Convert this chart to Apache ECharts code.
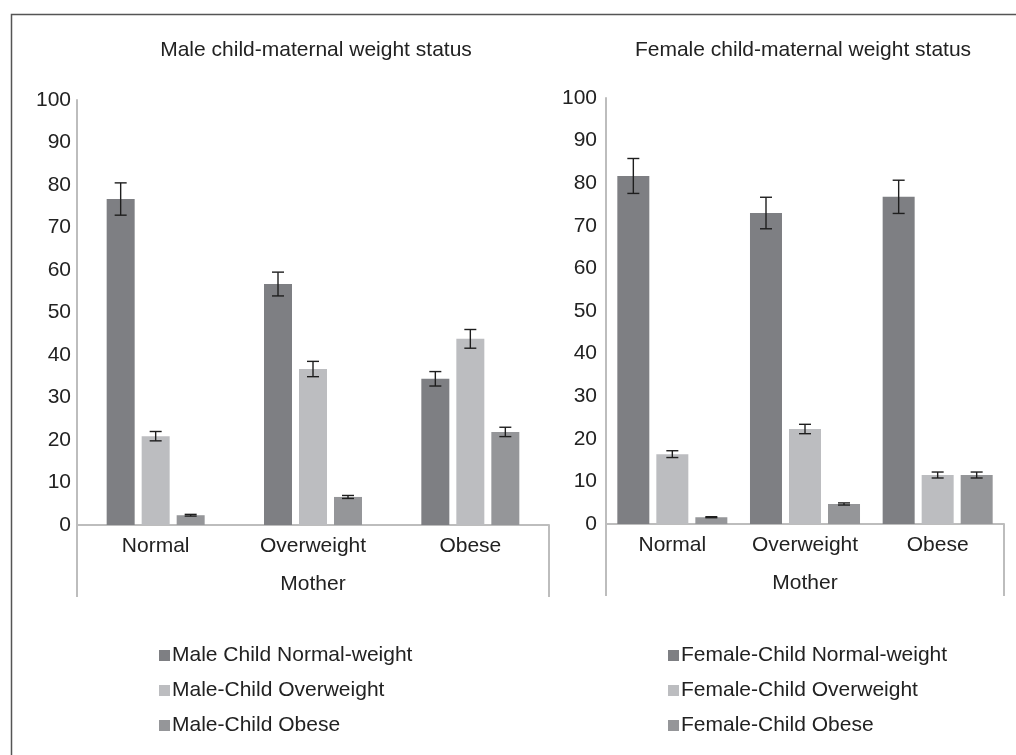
<!DOCTYPE html>
<html>
<head>
<meta charset="utf-8">
<script src="https://cdn.jsdelivr.net/npm/echarts@6/dist/echarts.min.js"></script>
<style>
  html, body { margin: 0; padding: 0; background: #fff; }
  #chart { width: 1016px; height: 755px; }
</style>
</head>
<body>
<div id="chart"></div>
<script>
// Mother's weight status (x categories)
const categories = ['Normal', 'Overweight', 'Obese'];
const yTicks = [0, 10, 20, 30, 40, 50, 60, 70, 80, 90, 100];

// Male children: percentage by weight status, with error (±) per bar
const maleNames = ['Male Child Normal-weight', 'Male-Child Overweight', 'Male-Child Obese'];
const maleNormal = [76.7, 56.7, 34.4];
const maleNormalErr = [3.8, 2.8, 1.7];
const maleOver = [20.9, 36.7, 43.8];
const maleOverErr = [1.1, 1.8, 2.2];
const maleObese = [2.3, 6.6, 21.9];
const maleObeseErr = [0.2, 0.35, 1.1];

// Female children
const femaleNames = ['Female-Child Normal-weight', 'Female-Child Overweight', 'Female-Child Obese'];
const femaleNormal = [81.7, 73.0, 76.8];
const femaleNormalErr = [4.1, 3.7, 3.9];
const femaleOver = [16.4, 22.3, 11.5];
const femaleOverErr = [0.8, 1.1, 0.7];
const femaleObese = [1.6, 4.7, 11.5];
const femaleObeseErr = [0.12, 0.25, 0.7];

const colors = ['#7e7f83', '#bcbdc0', '#959699'];
const FONT = "'Liberation Sans', Arial, sans-serif";
const TXT = '#222222';
const AXIS = '#bdbdbd';

const panels = [
  { title: 'Male child-maternal weight status', names: maleNames,
    values: [maleNormal, maleOver, maleObese], errs: [maleNormalErr, maleOverErr, maleObeseErr],
    grid: { left: 77, top: 100, width: 472, height: 425 }, barWidth: 28, gapPx: 7, labelMargin: 6,
    titleX: 311, legendX: 154 },
  { title: 'Female child-maternal weight status', names: femaleNames,
    values: [femaleNormal, femaleOver, femaleObese], errs: [femaleNormalErr, femaleOverErr, femaleObeseErr],
    grid: { left: 606, top: 98, width: 398, height: 426 }, barWidth: 32, gapPx: 7, labelMargin: 9,
    titleX: 798, legendX: 663 }
];

// Error bar drawn around the bar at the given slot within the category group
function errorBarRenderer(slot, barWidth, gapPx) {
  return function (params, api) {
    const c = api.value(0);
    const lo = api.coord([c, api.value(1)]);
    const hi = api.coord([c, api.value(2)]);
    const x = lo[0] + (slot - 1) * (barWidth + gapPx);
    const half = 6;
    const style = { stroke: '#1e1e1e', lineWidth: 1.4 };
    return {
      type: 'group',
      children: [
        { type: 'line', shape: { x1: x, y1: hi[1], x2: x, y2: lo[1] }, style: style },
        { type: 'line', shape: { x1: x - half, y1: hi[1], x2: x + half, y2: hi[1] }, style: style },
        { type: 'line', shape: { x1: x - half, y1: lo[1], x2: x + half, y2: lo[1] }, style: style }
      ]
    };
  };
}

const option = {
  animation: false,
  backgroundColor: '#ffffff',
  textStyle: { fontFamily: FONT },
  title: [],
  legend: [],
  grid: [],
  xAxis: [],
  yAxis: [],
  series: [],
  graphic: [{
    // outer frame
    type: 'rect', left: 9, top: 12, silent: true,
    shape: { width: 1100, height: 800 },
    style: { fill: 'none', stroke: '#555555', lineWidth: 1.5 }
  }]
};

panels.forEach(function (p, pi) {
  option.title.push({
    text: p.title, left: p.titleX, top: 35, textAlign: 'center',
    textStyle: { fontFamily: FONT, fontSize: 21, fontWeight: 'normal', color: TXT }
  });
  option.grid.push(Object.assign({ containLabel: false }, p.grid));
  option.xAxis.push({
    type: 'category', gridIndex: pi, data: categories,
    name: 'Mother', nameLocation: 'middle', nameGap: 49,
    nameTextStyle: { fontFamily: FONT, fontSize: 21, color: TXT },
    axisLine: { show: true, lineStyle: { color: AXIS, width: 2 } },
    axisTick: { show: true, length: 72, interval: function (i) { return i === 0; },
                lineStyle: { color: AXIS, width: 2 } },
    axisLabel: { fontFamily: FONT, fontSize: 21, color: TXT, margin: 11, interval: 0 },
    splitLine: { show: false }
  });
  option.yAxis.push({
    type: 'value', gridIndex: pi, min: yTicks[0], max: yTicks[yTicks.length - 1],
    interval: yTicks[1] - yTicks[0],
    axisLine: { show: true, lineStyle: { color: AXIS, width: 2 } },
    axisTick: { show: false },
    splitLine: { show: false },
    axisLabel: { fontFamily: FONT, fontSize: 21, color: TXT, margin: p.labelMargin }
  });
  p.names.forEach(function (name, si) {
    option.series.push({
      name: name, type: 'bar', xAxisIndex: pi, yAxisIndex: pi,
      data: p.values[si], barWidth: p.barWidth,
      barGap: (p.gapPx / p.barWidth * 100).toFixed(1) + '%',
      itemStyle: { color: colors[si] }, z: 2
    });
  });
  p.names.forEach(function (name, si) {
    const d = p.values[si].map(function (v, ci) {
      return [ci, v - p.errs[si][ci], v + p.errs[si][ci]];
    });
    option.series.push({
      type: 'custom', xAxisIndex: pi, yAxisIndex: pi, z: 5,
      renderItem: errorBarRenderer(si, p.barWidth, p.gapPx),
      encode: { x: 0, y: [1, 2] }, data: d, silent: true
    });
  });
  option.legend.push({
    data: p.names.map(function (n, i) { return { name: n, icon: 'rect', itemStyle: { color: colors[i] } }; }),
    orient: 'vertical', left: p.legendX, top: 640,
    itemWidth: 11, itemHeight: 11, itemGap: 14, selectedMode: false,
    textStyle: { fontFamily: FONT, fontSize: 21, color: TXT, padding: [0, 0, 0, -3] }
  });
});

const chart = echarts.init(document.getElementById('chart'), null, { renderer: 'canvas' });
chart.setOption(option);
</script>
</body>
</html>
